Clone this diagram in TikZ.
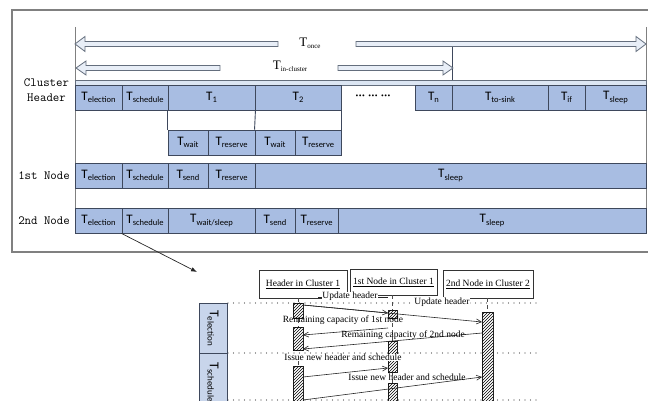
\documentclass[tikz,border=0pt]{standalone}
\usepackage{fontspec}
\setmainfont{Liberation Serif}
\newfontfamily\barfont{Carlito}
\usetikzlibrary{patterns,arrows.meta}
\definecolor{barfill}{RGB}{168,189,226}
\definecolor{barline}{RGB}{62,72,92}
\definecolor{stripfill}{RGB}{220,230,243}
\definecolor{arrfill}{RGB}{232,238,247}
\definecolor{arrline}{RGB}{100,110,125}
\definecolor{framec}{RGB}{128,128,128}
\definecolor{vboxfill}{RGB}{200,213,235}
\newcommand\Ts[1]{T\raisebox{-0.35ex}{\fontsize{8.5}{9}\selectfont #1}}
\newcommand\Tv[1]{T\raisebox{-0.35ex}{\fontsize{9}{10}\selectfont #1}}
\newcommand\Tr[1]{T\raisebox{-0.3ex}{\fontsize{7}{8}\selectfont #1}}
\begin{document}
\begin{tikzpicture}[x=1pt,y=-1pt,
 tb/.style={draw=barline, fill=barfill, line width=0.9pt, inner sep=0pt, minimum height=25pt, font=\barfont\fontsize{13}{15}\selectfont},
 blk/.style={draw=arrline, fill=arrfill, line width=0.8pt},
 lbl/.style={font=\ttfamily\fontsize{12.5}{15}\selectfont, align=center, inner sep=0pt},
 seqbox/.style={draw=black!80, line width=0.8pt, inner sep=0pt, font=\fontsize{9.5}{11}\selectfont},
 msg/.style={font=\fontsize{9.5}{11}\selectfont, inner sep=0.5pt},
 act/.style={draw=black!85, line width=0.7pt, fill=white, postaction={pattern=north east lines}},
 dotl/.style={line width=1.1pt, line cap=round, dash pattern=on 0pt off 5.5pt, black!75},
 life/.style={black!70, line width=0.6pt, dash pattern=on 4pt off 3pt},
 marr/.style={-{Straight Barb[length=5pt,width=5pt]}, line width=0.6pt, black!85},
 vbox/.style={draw=barline, fill=vboxfill, line width=0.8pt, inner sep=0pt, minimum height=28pt, rotate=-90, font=\barfont\fontsize{13.5}{15}\selectfont},
 tlab/.style={inner sep=0pt, font=\fontsize{13}{15}\selectfont}
]
\useasboundingbox (0,0) rectangle (648,401);
% frame
\draw[framec, line width=1.2pt] (648,10) -- (12,10) -- (12,252) -- (648,252);
% guide lines
\draw[framec, line width=1pt] (75,27) -- (75,233);
\draw[framec, line width=1pt] (646,27) -- (646,233);
\draw[barline, line width=0.8pt] (452,46) -- (452,80);
% block arrows
\draw[blk] (75,44) -- (85,36.5) -- (85,41.5) -- (278,41.5) -- (278,46.5) -- (85,46.5) -- (85,51.5) -- cycle;
\draw[blk] (646,44) -- (636,36.5) -- (636,41.5) -- (356,41.5) -- (356,46.5) -- (636,46.5) -- (636,51.5) -- cycle;
\draw[blk] (76,68) -- (86,61) -- (86,65.5) -- (220,65.5) -- (220,70.5) -- (86,70.5) -- (86,75) -- cycle;
\draw[blk] (453,68) -- (443,61) -- (443,65.5) -- (338,65.5) -- (338,70.5) -- (443,70.5) -- (443,75) -- cycle;
\node[tlab] (tonce) at (310,43) {\Tr{once}};
\node[tlab] (tin) at (290,66) {\Tr{in-cluster}};
% strip
\draw[fill=stripfill, draw=arrline, line width=0.7pt] (75,80) rectangle (646,85);
% row labels
\node[lbl] (lch) at (46.5,90.5) {Cluster\\Header};
\node[lbl] (l1) at (44,175.5) {1st Node};
\node[lbl] (l2) at (44,220.5) {2nd Node};
% cluster header row
\node[tb, minimum width=47pt] (ch1) at (98.5,97.5) {\Ts{election}};
\node[tb, minimum width=46pt] (ch2) at (145,97.5) {\Ts{schedule}};
\node[tb, minimum width=87pt] (ch3) at (211.5,97.5) {\Ts{1}};
\node[tb, minimum width=86pt] (ch4) at (298,97.5) {\Ts{2}};
\node[inner sep=0pt, font=\barfont\fontsize{13}{15}\selectfont] (dots) at (373,97) {··· ··· ···};
\node[tb, minimum width=37pt] (ch5) at (433.5,97.5) {\Ts{n}};
\node[tb, minimum width=96pt] (ch6) at (500,97.5) {\Ts{to-sink}};
\node[tb, minimum width=37pt] (ch7) at (566.5,97.5) {\Ts{if}};
\node[tb, minimum width=61pt] (ch8) at (615.5,97.5) {\Ts{sleep}};
% sub row
\node[tb, minimum width=40pt] (s1) at (188,142.5) {\Ts{wait}};
\node[tb, minimum width=47pt] (s2) at (231.5,142.5) {\Ts{reserve}};
\node[tb, minimum width=40pt] (s3) at (275,142.5) {\Ts{wait}};
\node[tb, minimum width=46pt] (s4) at (318,142.5) {\Ts{reserve}};
\draw[barline, line width=0.9pt] (ch3.south west) -- (s1.north west);
\draw[barline, line width=0.9pt] (ch3.south east) -- (s3.north west);
\draw[barline, line width=0.9pt] (ch4.south east) -- (s4.north east);
% 1st node row
\node[tb, minimum width=47pt] (a1) at (98.5,175.5) {\Ts{election}};
\node[tb, minimum width=46pt] (a2) at (145,175.5) {\Ts{schedule}};
\node[tb, minimum width=40pt] (a3) at (188,175.5) {\Ts{send}};
\node[tb, minimum width=47pt] (a4) at (231.5,175.5) {\Ts{reserve}};
\node[tb, minimum width=391pt] (a5) at (450.5,175.5) {\Ts{sleep}};
% 2nd node row
\node[tb, minimum width=47pt] (b1) at (98.5,220.5) {\Ts{election}};
\node[tb, minimum width=46pt] (b2) at (145,220.5) {\Ts{schedule}};
\node[tb, minimum width=87pt] (b3) at (211.5,220.5) {\Ts{wait/sleep}};
\node[tb, minimum width=40pt] (b4) at (275,220.5) {\Ts{send}};
\node[tb, minimum width=43pt] (b5) at (316.5,220.5) {\Ts{reserve}};
\node[tb, minimum width=308pt] (b6) at (492,220.5) {\Ts{sleep}};
% zoom arrow
\coordinate (zt) at (197,272);
\draw[black!85, line width=0.7pt, -{Latex[length=6pt,width=4.5pt]}] (b2.south west) -- (zt);
% sequence part
\node[seqbox, minimum width=88pt, minimum height=28pt] (hdr) at (303,284) {\underline{Header in Cluster 1}};
\node[seqbox, minimum width=87pt, minimum height=26pt] (n1) at (393.5,282) {\underline{1st Node in Cluster 1}};
\node[seqbox, minimum width=90pt, minimum height=28pt] (n2) at (488,284) {\underline{2nd Node in Cluster 2}};
% dotted phase lines
\coordinate (d1a) at (228,303); \coordinate (d1b) at (536,303);
\coordinate (d2a) at (228,353); \coordinate (d2b) at (536,353);
\coordinate (d3a) at (228,400); \coordinate (d3b) at (536,400);
\draw[dotl] (d1a) -- (d1b);
\draw[dotl] (d2a) -- (d2b);
\draw[dotl] (d3a) -- (d3b);
% left vertical phase boxes
\node[vbox, minimum width=50pt] (ve) at (213,328) {\Tv{election}};
\node[vbox, minimum width=58pt] (vs) at (213,382) {\Tv{schedule}};
% lifelines
\coordinate (hl0) at (298,298); \coordinate (hl1) at (298,401);
\coordinate (pl0) at (392.5,295); \coordinate (pl1) at (392.5,401);
\coordinate (ql0) at (487.5,298); \coordinate (ql1) at (487.5,401);
\draw[life] (hl0) -- (hl1);
\draw[life] (pl0) -- (pl1);
\draw[life] (ql0) -- (ql1);
% activation bars
\draw[act] (293,303) rectangle (303,318);
\draw[act] (293,327) rectangle (303,350);
\draw[act] (293,366) rectangle (303,403);
\draw[act] (388,310) rectangle (397,318);
\draw[act] (388,341) rectangle (397,372);
\draw[act] (388,383) rectangle (397,403);
\draw[act] (482,312) rectangle (493,403);
% labels on top lines
\coordinate (ul1) at (318,297.5); \coordinate (ul2) at (388,297.5);
\draw[black!85, line width=0.6pt] (ul1) -- (ul2);
\node[msg, fill=white] (mu1) at (350,296.5) {Update header};
\node[msg, fill=white] (mu2) at (442,302) {Update header};
% messages
\coordinate (h1) at (303,305); \coordinate (p1) at (388,313); \coordinate (q1) at (482,322);
\draw[marr] (h1) -- (p1);
\draw[marr] (h1) -- (q1);
\coordinate (p2) at (388,328); \coordinate (h2) at (303,335);
\draw[marr] (p2) -- (h2);
\node[msg] (mr1) at (343,320) {Remaining capacity of 1st node};
\coordinate (q3) at (482,333); \coordinate (h3) at (303,349);
\draw[marr] (q3) -- (h3);
\node[msg] (mr2) at (403,335) {Remaining capacity of 2nd node};
\coordinate (h4) at (303,377); \coordinate (p4) at (388,368);
\draw[marr] (h4) -- (p4);
\node[msg, fill=white] (mi1) at (343,357.5) {Issue new header and schedule};
\coordinate (h5) at (303,400); \coordinate (q5) at (482,377);
\draw[marr] (h5) -- (q5);
\node[msg] (mi2) at (407,377) {Issue new header and schedule};
\end{tikzpicture}
\end{document}
